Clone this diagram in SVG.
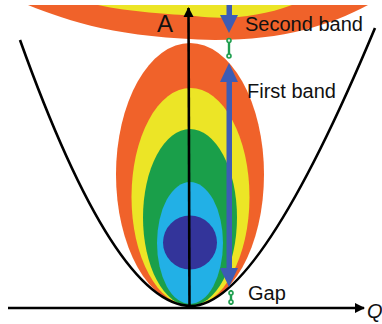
<svg xmlns="http://www.w3.org/2000/svg" width="382" height="324" viewBox="0 0 382 324">
  <style>
    .lbl { font-family: "Liberation Sans", Arial, sans-serif; fill: #111; }
    .ax { stroke: #000; stroke-width: 2.6; fill: none; }
    .blue { fill: #3d5cb4; }
    .gap { stroke: #1f9e4f; stroke-width: 2.4; fill: none; }
    .gapdot { stroke: #1f9e4f; stroke-width: 1.6; fill: #dff2e4; }
  </style>
  <defs>
    <marker id="axhead" viewBox="0 0 10 10" refX="9" refY="5" markerWidth="4" markerHeight="4" orient="auto" markerUnits="strokeWidth">
      <path d="M0,0 L10,5 L0,10 z" fill="#000"/>
    </marker>
  </defs>
  <rect width="382" height="324" fill="#fff"/>

  <g id="second-band">
    <path d="M28,5 C70,22 120,38 215,40 C285,40 330,25 368,5 Z" fill="#f0622a"/>
    <path d="M98,5 C130,12 170,14 195,16 C225,20 260,17 292,5 Z" fill="#ece526"/>
  </g>

  <g id="first-band">
    <ellipse cx="190" cy="174.5" rx="74" ry="131.5" fill="#f0622a"/>
    <ellipse cx="190.5" cy="197" rx="59" ry="109" fill="#ece526"/>
    <ellipse cx="190" cy="217.5" rx="47" ry="88.5" fill="#1a9f4a"/>
    <ellipse cx="190" cy="243" rx="33" ry="61" fill="#22b0e6"/>
    <circle cx="190" cy="242.5" r="27" fill="#33349a"/>
  </g>

  <g id="dispersion">
    <path class="ax" d="M20,40 Q115,305 191,306 Q258.8,306 375,28"/>
  </g>

  <g id="axes">
    <line class="ax" x1="8" y1="308" x2="364" y2="308" marker-end="url(#axhead)"/>
    <line class="ax" x1="189.5" y1="308" x2="188.5" y2="8" marker-end="url(#axhead)"/>
  </g>

  <g id="connectors">
    <rect class="blue" x="226.5" y="5" width="5.5" height="12"/>
    <polygon class="blue" points="220,15 238,15 229,33"/>
    <line class="gap" x1="229" y1="38" x2="229" y2="58"/>
    <circle class="gapdot" cx="229" cy="40.5" r="2"/>
    <circle class="gapdot" cx="229" cy="56" r="2"/>
    <rect class="blue" x="226.5" y="80" width="5.5" height="191"/>
    <polygon class="blue" points="229,63 238,82 220,82"/>
    <polygon class="blue" points="220,268 238,268 229,287"/>
    <line class="gap" x1="231" y1="290" x2="231" y2="305"/>
    <circle class="gapdot" cx="231" cy="293" r="2"/>
    <circle class="gapdot" cx="231" cy="302" r="2"/>
  </g>

  <g id="labels">
    <text class="lbl" x="157" y="32" font-size="24">A</text>
    <text class="lbl" x="245" y="31" font-size="20">Second band</text>
    <text class="lbl" x="247" y="98" font-size="20">First band</text>
    <text class="lbl" x="248" y="300" font-size="20">Gap</text>
    <text class="lbl" x="367" y="318" font-size="20" font-style="italic">Q</text>
  </g>
</svg>
